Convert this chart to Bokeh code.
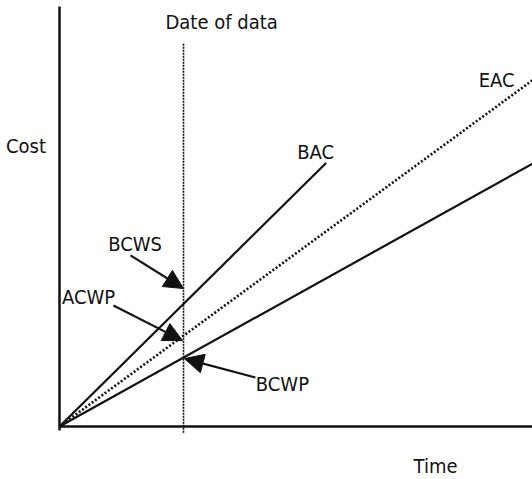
from bokeh.plotting import figure
from bokeh.models import Range1d, Arrow, NormalHead, ColumnDataSource
from bokeh.core.properties import value
from bokeh.embed import file_html
from bokeh.resources import INLINE

# ---- data (time / cost units) ----
date_of_data = 4.0
bac_time = [0.0, 8.6]
bac_cost = [0.0, 8.5]
eac_time = [0.0, 15.3]
eac_cost = [0.0, 11.2]
bcwp_time = [0.0, 15.3]
bcwp_cost = [0.0, 8.5]

axis_y_top = 13.55
date_line_cost = [-0.2, 12.35]

label_text = ["Date of data", "Cost", "BAC", "EAC", "BCWS", "ACWP", "BCWP", "Time"]
label_time = [5.23, -1.08, 8.26, 14.10, 2.44, 0.94, 7.19, 12.13]
label_cost = [13.06, 9.06, 8.85, 11.18, 5.89, 4.19, 1.37, -1.29]

arrow_names = ["BCWS", "ACWP", "BCWP"]
arrow_tail_time = [2.29, 1.74, 6.32]
arrow_tail_cost = [5.52, 3.90, 1.58]
arrow_tip_time = [4.00, 3.97, 4.03]
arrow_tip_cost = [4.45, 2.77, 2.19]

# ---- layout ----
W, H = 532, 479
scale = 31.0
ox, oy = 59, 426  # origin in canvas pixels

p = figure(width=W, height=H, output_backend="svg", toolbar_location=None,
           x_range=Range1d(-ox / scale, (W - ox) / scale),
           y_range=Range1d(-(H - oy) / scale, oy / scale),
           min_border=0, min_border_left=0, min_border_right=0,
           min_border_top=0, min_border_bottom=0)
p.axis.visible = False
p.grid.visible = False
p.outline_line_color = None
p.background_fill_color = "white"
p.border_fill_color = "white"

ink = "#111111"
x_end = (W - ox) / scale + 0.5

# axes
p.line([0, 0], [-0.13, axis_y_top], line_color=ink, line_width=2.5)
p.line([0, x_end], [0, 0], line_color=ink, line_width=2.5)

# date of data line
p.line([date_of_data, date_of_data], date_line_cost, line_color=ink,
       line_width=1.6, line_dash="2 1")

# lines
p.line(bac_time, bac_cost, line_color=ink, line_width=2.2)
p.line(bcwp_time, bcwp_cost, line_color=ink, line_width=2.2)
p.line(eac_time, eac_cost, line_color=ink, line_width=2.6, line_dash="2 2")

# arrows
for tx, ty, hx, hy in zip(arrow_tail_time, arrow_tail_cost, arrow_tip_time, arrow_tip_cost):
    p.add_layout(Arrow(end=NormalHead(size=19, fill_color=ink, line_color=ink),
                       x_start=tx, y_start=ty, x_end=hx, y_end=hy,
                       line_color=ink, line_width=2.2))

src = ColumnDataSource(dict(x=label_time, y=label_cost, t=label_text))
p.text(x="x", y="y", text="t", source=src, text_align="center",
       text_baseline="middle", text_font=value("DejaVu Sans Condensed"),
       text_font_size="20px", text_color=ink)

open("out.html", "w").write(file_html(p, INLINE))
